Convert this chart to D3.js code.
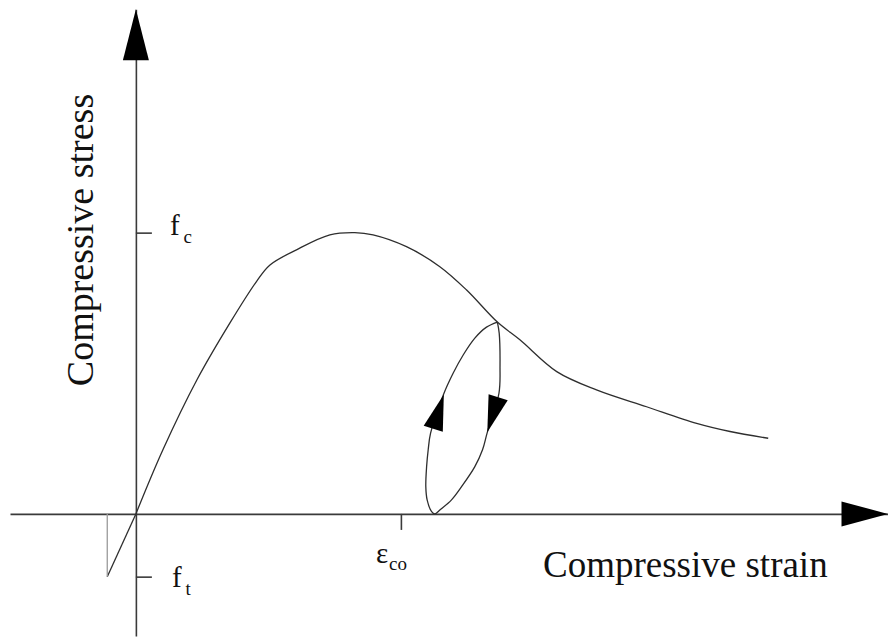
<!DOCTYPE html>
<html>
<head>
<meta charset="utf-8">
<script src="https://cdn.jsdelivr.net/npm/d3@7"></script>
<style>
html, body { margin: 0; padding: 0; background: #fff; }
svg { display: block; }
text { font-family: "Liberation Serif", "Times New Roman", serif; fill: #111; }
</style>
</head>
<body>
<svg id="chart" width="888" height="641"></svg>
<script>
// ============ Data (strain / eps_co, stress / f_c) ============
const envelopeStrain = [0, 0.102, 0.230, 0.355, 0.455, 0.506, 0.606, 0.732, 0.826, 0.895, 1.021, 1.147, 1.248, 1.364, 1.449, 1.588, 1.738, 1.927, 2.116, 2.242, 2.386];
const envelopeStress = [0, 0.228, 0.476, 0.679, 0.826, 0.885, 0.939, 0.992, 1.000, 0.992, 0.950, 0.879, 0.796, 0.682, 0.619, 0.506, 0.441, 0.381, 0.322, 0.293, 0.269];

const tensionStrain = [0, -0.108];
const tensionStress = [0, -0.223];

// unloading branch (down) then reloading branch (up)
const unloadStrain = [1.364, 1.371, 1.374, 1.370, 1.326, 1.308, 1.279, 1.229, 1.191, 1.147, 1.128];
const unloadStress = [0.682, 0.642, 0.524, 0.429, 0.290, 0.228, 0.168, 0.097, 0.050, 0.014, 0];
const reloadStrain = [1.128, 1.116, 1.099, 1.094, 1.097, 1.103, 1.112, 1.160, 1.197, 1.235, 1.279, 1.323, 1.364];
const reloadStress = [0, 0.008, 0.050, 0.097, 0.168, 0.228, 0.287, 0.423, 0.500, 0.565, 0.625, 0.664, 0.682];

// direction arrows on the loop: tip and tail
const arrowTipStrain  = [1.162, 1.326];
const arrowTipStress  = [0.425, 0.290];
const arrowTailStrain = [1.122, 1.367];
const arrowTailStress = [0.303, 0.415];

// tick labels
const stressTicks = [1, -0.223];
const stressTickNames = ["c", "t"];
const strainTicks = [1];

// ============ Scales ============
const WIDTH = 888, HEIGHT = 641;
const x = d3.scaleLinear().domain([-0.475, 2.838]).range([10, 888]);
const y = d3.scaleLinear().domain([-0.434, 1.794]).range([636, 9.3]);

const svg = d3.select("#chart");
const AXIS_COLOR = "#3a3a3a";
const CURVE_COLOR = "#2e2e2e";

// ============ Axes ============
const xAxis = svg.append("g")
  .attr("transform", `translate(0,${y(0)})`)
  .call(d3.axisBottom(x).tickValues(strainTicks).tickFormat("").tickSizeInner(16).tickSizeOuter(0));
const yAxis = svg.append("g")
  .attr("transform", `translate(${x(0)},0)`)
  .call(d3.axisRight(y).tickValues(stressTicks).tickFormat("").tickSizeInner(16).tickSizeOuter(0));
[xAxis, yAxis].forEach(g => {
  g.selectAll("path, line").attr("stroke", AXIS_COLOR).attr("stroke-width", 1.6);
});

// axis arrowheads
function triangle(tip, tail, hw){
  const dx = tip[0] - tail[0], dy = tip[1] - tail[1];
  const len = Math.hypot(dx, dy);
  const nx = -dy / len * hw, ny = dx / len * hw;
  return `M${tip[0]},${tip[1]}L${tail[0] + nx},${tail[1] + ny}L${tail[0] - nx},${tail[1] - ny}Z`;
}
svg.append("path")
  .attr("d", triangle([x(0), y(1.794)], [x(0), y(1.794) + 51], 13))
  .attr("fill", "#000");
svg.append("path")
  .attr("d", triangle([x(2.838), y(0)], [x(2.838) - 46.5, y(0)], 12.5))
  .attr("fill", "#000");

// ============ Curves ============
const line = d3.line()
  .x(d => x(d[0]))
  .y(d => y(d[1]))
  .curve(d3.curveCatmullRom.alpha(0.5));

const envelope = envelopeStrain.map((s, i) => [s, envelopeStress[i]]);
svg.append("path")
  .attr("d", line(envelope))
  .attr("fill", "none").attr("stroke", CURVE_COLOR).attr("stroke-width", 1.3);

const tension = tensionStrain.map((s, i) => [s, tensionStress[i]]);
svg.append("path")
  .attr("d", d3.line().x(d => x(d[0])).y(d => y(d[1]))(tension))
  .attr("fill", "none").attr("stroke", CURVE_COLOR).attr("stroke-width", 1.3);
// drop back to zero after cracking
svg.append("line")
  .attr("x1", x(tensionStrain[1])).attr("x2", x(tensionStrain[1]))
  .attr("y1", y(tensionStress[1])).attr("y2", y(0))
  .attr("stroke", "#9a9a9a").attr("stroke-width", 1.3);

const loop = unloadStrain.map((s, i) => [s, unloadStress[i]])
  .concat(reloadStrain.slice(1).map((s, i) => [s, reloadStress[i + 1]]));
svg.append("path")
  .attr("d", line(loop))
  .attr("fill", "none").attr("stroke", CURVE_COLOR).attr("stroke-width", 1.3);

arrowTipStrain.forEach((s, i) => {
  svg.append("path")
    .attr("d", triangle([x(s), y(arrowTipStress[i])], [x(arrowTailStrain[i]), y(arrowTailStress[i])], 10))
    .attr("fill", "#000");
});

// ============ Labels ============
const labelOffsets = [[34, 2.5], [36, 10]];
stressTicks.forEach((v, i) => {
  const t = svg.append("text")
    .attr("x", x(0) + labelOffsets[i][0])
    .attr("y", y(v) + labelOffsets[i][1])
    .attr("font-size", 29)
    .text("f");
  t.append("tspan").attr("dx", 4).attr("dy", 8).attr("font-size", 19).text(stressTickNames[i]);
});

const eps = svg.append("text")
  .attr("x", x(strainTicks[0]) - 25)
  .attr("y", y(0) + 49)
  .attr("font-size", 29)
  .text("ε");
eps.append("tspan").attr("dx", 1).attr("dy", 7).attr("font-size", 19).text("co");

svg.append("text")
  .attr("x", 543)
  .attr("y", 577)
  .attr("font-size", 37)
  .text("Compressive strain");

svg.append("text")
  .attr("transform", "translate(93,240) rotate(-90)")
  .attr("text-anchor", "middle")
  .attr("font-size", 38)
  .text("Compressive stress");
</script>
</body>
</html>
